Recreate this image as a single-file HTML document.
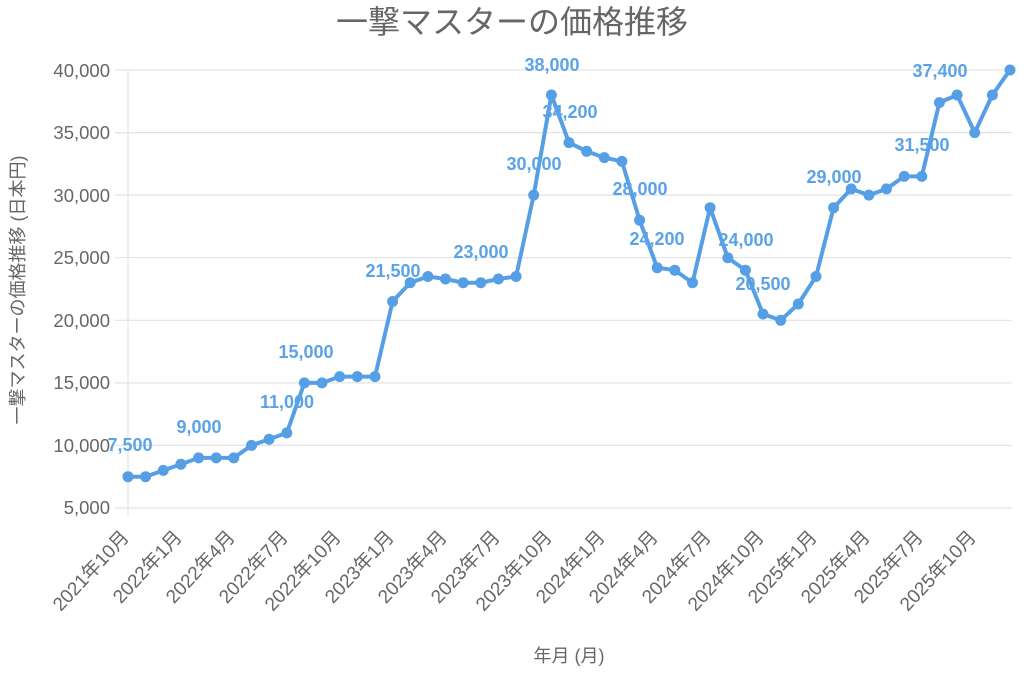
<!DOCTYPE html>
<html><head><meta charset="utf-8"><style>
html,body{margin:0;padding:0;background:#fff}
svg{display:block;font-family:"Liberation Sans","Noto Sans CJK JP",sans-serif}
</style></head><body>
<svg width="1024" height="676" viewBox="0 0 1024 676" xmlns="http://www.w3.org/2000/svg">
<text x="512" y="33" text-anchor="middle" font-size="32" fill="#666">一撃マスターの価格推移</text>
<g stroke="#e3e3e3" stroke-width="1.2">
<line x1="115" y1="70" x2="1012" y2="70"/>
<line x1="115" y1="132.6" x2="1012" y2="132.6"/>
<line x1="115" y1="195.1" x2="1012" y2="195.1"/>
<line x1="115" y1="257.7" x2="1012" y2="257.7"/>
<line x1="115" y1="320.3" x2="1012" y2="320.3"/>
<line x1="115" y1="382.9" x2="1012" y2="382.9"/>
<line x1="115" y1="445.4" x2="1012" y2="445.4"/>
<line x1="115" y1="508" x2="1012" y2="508"/>
<line x1="128" y1="70" x2="128" y2="515"/>
</g>
<g font-size="18.5" fill="#666" text-anchor="end">
<text x="110" y="77">40,000</text>
<text x="110" y="139">35,000</text>
<text x="110" y="202">30,000</text>
<text x="110" y="264">25,000</text>
<text x="110" y="327">20,000</text>
<text x="110" y="389">15,000</text>
<text x="110" y="452">10,000</text>
<text x="110" y="514">5,000</text>
</g>
<text transform="translate(24,290) rotate(-90)" text-anchor="middle" font-size="18" fill="#666">一撃マスターの価格推移 (日本円)</text>
<text x="569" y="662" text-anchor="middle" font-size="18" fill="#666">年月 (月)</text>
<g font-size="19" fill="#666" text-anchor="end">
<text transform="translate(130,538) rotate(-47)">2021年10月</text>
<text transform="translate(183,538) rotate(-47)">2022年1月</text>
<text transform="translate(236,538) rotate(-47)">2022年4月</text>
<text transform="translate(289,538) rotate(-47)">2022年7月</text>
<text transform="translate(342,538) rotate(-47)">2022年10月</text>
<text transform="translate(395,538) rotate(-47)">2023年1月</text>
<text transform="translate(448,538) rotate(-47)">2023年4月</text>
<text transform="translate(501,538) rotate(-47)">2023年7月</text>
<text transform="translate(553,538) rotate(-47)">2023年10月</text>
<text transform="translate(606,538) rotate(-47)">2024年1月</text>
<text transform="translate(659,538) rotate(-47)">2024年4月</text>
<text transform="translate(712,538) rotate(-47)">2024年7月</text>
<text transform="translate(765,538) rotate(-47)">2024年10月</text>
<text transform="translate(818,538) rotate(-47)">2025年1月</text>
<text transform="translate(871,538) rotate(-47)">2025年4月</text>
<text transform="translate(924,538) rotate(-47)">2025年7月</text>
<text transform="translate(977,538) rotate(-47)">2025年10月</text>
</g>
<polyline fill="none" stroke="#569fe6" stroke-width="4" stroke-linejoin="round" points="128,476.7 145.6,476.7 163.3,470.4 180.9,464.2 198.6,457.9 216.2,457.9 233.8,457.9 251.5,445.4 269.1,439.2 286.8,432.9 304.4,382.9 322,382.9 339.7,376.6 357.3,376.6 375,376.6 392.6,301.5 410.2,282.7 427.9,276.5 445.5,279 463.2,282.7 480.8,282.7 498.4,279 516.1,276.5 533.7,195.1 551.4,95 569,142.6 586.6,151.3 604.3,157.6 621.9,161.4 639.6,220.2 657.2,267.7 674.8,270.2 692.5,282.7 710.1,207.7 727.8,257.7 745.4,270.2 763,314 780.7,320.3 798.3,304 816,276.5 833.6,207.7 851.2,188.9 868.9,195.1 886.5,188.9 904.2,176.4 921.8,176.4 939.4,102.6 957.1,95 974.7,132.6 992.4,95 1010,70"/>
<g fill="#569fe6">
<circle cx="128" cy="476.7" r="5.5"/><circle cx="145.6" cy="476.7" r="5.5"/><circle cx="163.3" cy="470.4" r="5.5"/><circle cx="180.9" cy="464.2" r="5.5"/><circle cx="198.6" cy="457.9" r="5.5"/><circle cx="216.2" cy="457.9" r="5.5"/><circle cx="233.8" cy="457.9" r="5.5"/><circle cx="251.5" cy="445.4" r="5.5"/><circle cx="269.1" cy="439.2" r="5.5"/><circle cx="286.8" cy="432.9" r="5.5"/><circle cx="304.4" cy="382.9" r="5.5"/><circle cx="322" cy="382.9" r="5.5"/><circle cx="339.7" cy="376.6" r="5.5"/><circle cx="357.3" cy="376.6" r="5.5"/><circle cx="375" cy="376.6" r="5.5"/><circle cx="392.6" cy="301.5" r="5.5"/><circle cx="410.2" cy="282.7" r="5.5"/><circle cx="427.9" cy="276.5" r="5.5"/><circle cx="445.5" cy="279" r="5.5"/><circle cx="463.2" cy="282.7" r="5.5"/><circle cx="480.8" cy="282.7" r="5.5"/><circle cx="498.4" cy="279" r="5.5"/><circle cx="516.1" cy="276.5" r="5.5"/><circle cx="533.7" cy="195.1" r="5.5"/><circle cx="551.4" cy="95" r="5.5"/><circle cx="569" cy="142.6" r="5.5"/><circle cx="586.6" cy="151.3" r="5.5"/><circle cx="604.3" cy="157.6" r="5.5"/><circle cx="621.9" cy="161.4" r="5.5"/><circle cx="639.6" cy="220.2" r="5.5"/><circle cx="657.2" cy="267.7" r="5.5"/><circle cx="674.8" cy="270.2" r="5.5"/><circle cx="692.5" cy="282.7" r="5.5"/><circle cx="710.1" cy="207.7" r="5.5"/><circle cx="727.8" cy="257.7" r="5.5"/><circle cx="745.4" cy="270.2" r="5.5"/><circle cx="763" cy="314" r="5.5"/><circle cx="780.7" cy="320.3" r="5.5"/><circle cx="798.3" cy="304" r="5.5"/><circle cx="816" cy="276.5" r="5.5"/><circle cx="833.6" cy="207.7" r="5.5"/><circle cx="851.2" cy="188.9" r="5.5"/><circle cx="868.9" cy="195.1" r="5.5"/><circle cx="886.5" cy="188.9" r="5.5"/><circle cx="904.2" cy="176.4" r="5.5"/><circle cx="921.8" cy="176.4" r="5.5"/><circle cx="939.4" cy="102.6" r="5.5"/><circle cx="957.1" cy="95" r="5.5"/><circle cx="974.7" cy="132.6" r="5.5"/><circle cx="992.4" cy="95" r="5.5"/><circle cx="1010" cy="70" r="5.5"/>
</g>
<g font-size="18" font-weight="bold" fill="#5ba3e8" text-anchor="middle">
<text x="130" y="451">7,500</text>
<text x="199" y="433">9,000</text>
<text x="287" y="408">11,000</text>
<text x="306" y="358">15,000</text>
<text x="393" y="277">21,500</text>
<text x="481" y="258">23,000</text>
<text x="534" y="170">30,000</text>
<text x="552" y="71">38,000</text>
<text x="570" y="118">34,200</text>
<text x="640" y="195">28,000</text>
<text x="657" y="245">24,200</text>
<text x="746" y="246">24,000</text>
<text x="763" y="290">20,500</text>
<text x="834" y="183">29,000</text>
<text x="922" y="151">31,500</text>
<text x="940" y="77">37,400</text>
</g>
</svg>
</body></html>
